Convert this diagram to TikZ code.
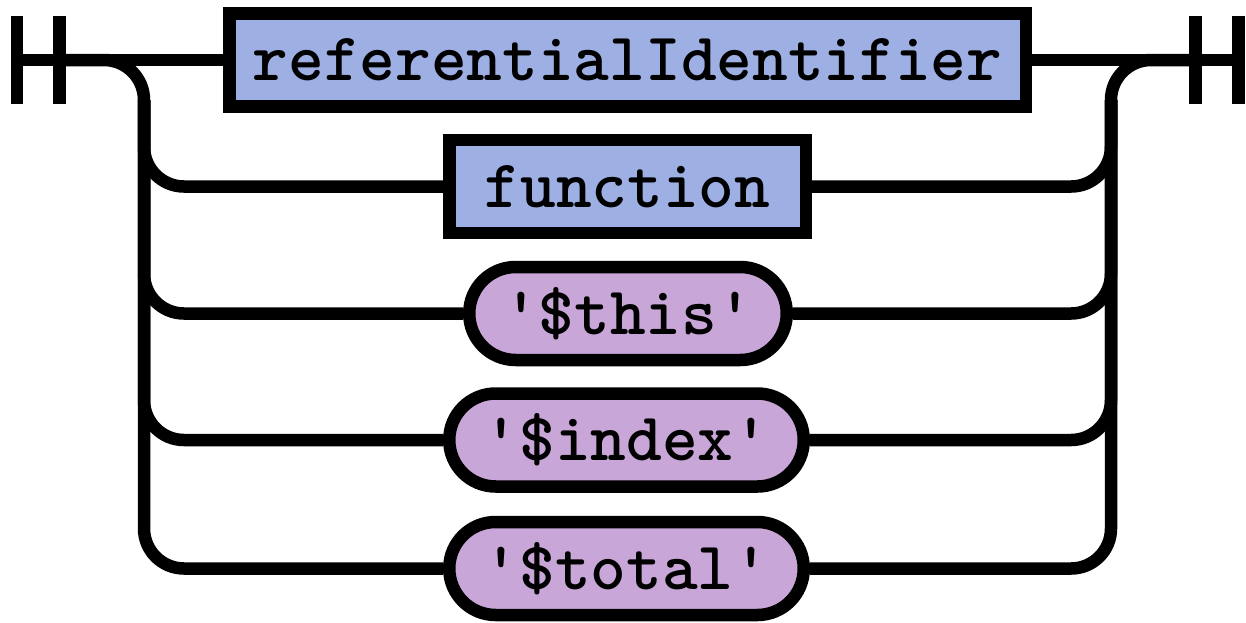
\documentclass[tikz,border=0pt]{standalone}
\definecolor{ntblue}{RGB}{157,175,227}
\definecolor{tpurple}{RGB}{200,166,216}
\begin{document}
\begin{tikzpicture}[x=0.5pt,y=-0.5pt,
  rail/.style={line width=6.25pt,rounded corners=20pt},
  endbar/.style={line width=6.25pt},
  boxbase/.style={draw,line width=6.25pt,minimum height=46.5pt,inner sep=0pt,
    font=\ttfamily\bfseries\fontsize{34}{40}\selectfont},
  nonterm/.style={boxbase,fill=ntblue},
  term/.style={boxbase,fill=tpurple,rounded corners=23.2pt}]
\useasboundingbox (0,0) rectangle (1246,622);
% nodes
\node[nonterm,minimum width=398.25pt] (ref) at (627.5,60) {referentialIdentifier};
\node[nonterm,minimum width=178.25pt] (fun) at (627.5,186.5) {function};
\node[term,minimum width=158.75pt] (this) at (628,313.5) {\char39\$this\char39};
\node[term,minimum width=177.25pt] (index) at (626.5,440) {\char39\$index\char39};
\node[term,minimum width=177.25pt] (total) at (626.5,568.5) {\char39\$total\char39};
% junction coordinates
\coordinate (b1) at (17,60);
\coordinate (b2) at (59.5,60);
\coordinate (b3) at (1195.5,60);
\coordinate (b4) at (1238.5,60);
\coordinate (lt) at (144,100);
\coordinate (lv) at (144,300);
\coordinate (rt) at (1111,100);
\coordinate (rv) at (1111,300);
% end bars
\foreach \b in {b1,b2,b3,b4}
  \draw[endbar] ([yshift=22pt]\b) -- ([yshift=-22pt]\b);
% main line
\draw[rail] (b1) -- (ref.west);
\draw[rail] (ref.east) -- (b4);
% left side
\draw[rail] (b2) -| (lv) |- (total.west);
\draw[rail] (lt) |- (fun.west);
\draw[rail] (lt) |- (this.west);
\draw[rail] (lt) |- (index.west);
% right side
\draw[rail] (total.east) -| (rv) |- (b3);
\draw[rail] (fun.east) -| (rt);
\draw[rail] (this.east) -| (rt);
\draw[rail] (index.east) -| (rt);
\end{tikzpicture}
\end{document}
